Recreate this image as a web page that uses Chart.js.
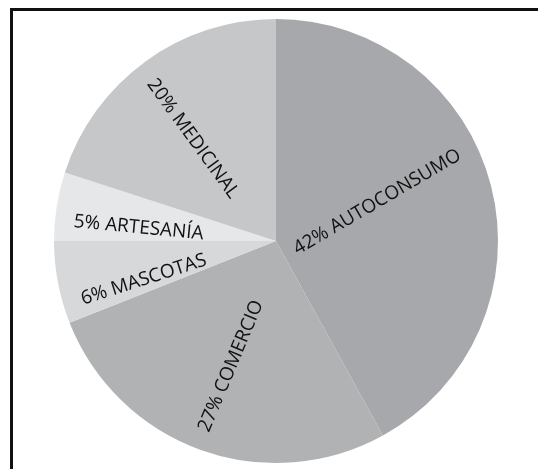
<!DOCTYPE html>
<html>
<head>
<meta charset="utf-8">
<script src="https://cdn.jsdelivr.net/npm/chart.js@4"></script>
<style>
  html, body { margin: 0; padding: 0; background: #fff; }
  #wrap { position: relative; width: 538px; height: 469px; overflow: hidden; }
  #frame {
    position: absolute; left: 10px; top: 8px;
    width: 600px; height: 600px;
    border: 3px solid #111; box-sizing: border-box;
  }
  #pie { position: absolute; left: 0; top: 0; }
</style>
</head>
<body>
<div id="wrap">
  <div id="frame"></div>
  <canvas id="pie" width="538" height="469"></canvas>
</div>
<script>
    "use strict";

    // datos del gráfico
    const categories = ['AUTOCONSUMO', 'COMERCIO', 'MASCOTAS', 'ARTESANÍA', 'MEDICINAL'];
    const shares = [42, 27, 6, 5, 20];
    const sliceColors = ['#a7a8ab', '#b0b2b4', '#d7d8da', '#e6e7e8', '#c6c7c9'];

    // etiquetas radiales dentro de cada porción
    const radialLabels = {
        id: 'radialLabels',
        afterDatasetsDraw(chart, args, opts) {
            const ctx = chart.ctx;
            const meta = chart.getDatasetMeta(0);
            const deg = Math.PI / 180;
            ctx.save();
            ctx.font = opts.font;
            ctx.fillStyle = opts.color;
            ctx.textBaseline = 'middle';
            meta.data.forEach((arc, i) => {
                const p = arc.getProps(['x', 'y', 'startAngle', 'endAngle', 'outerRadius'], true);
                const a = (p.startAngle + p.endAngle) / 2 + (opts.angleOffsets[i] || 0) * deg;
                const rot = a + (opts.rotateOffsets[i] || 0) * deg;
                const r = p.outerRadius * opts.anchor;
                const tx = p.x + Math.cos(a) * r;
                const ty = p.y + Math.sin(a) * r;
                const text = shares[i] + '% ' + categories[i];
                ctx.save();
                ctx.translate(tx, ty);
                if (Math.cos(a) >= 0) {
                    ctx.rotate(rot);
                    ctx.textAlign = 'right';
                } else {
                    ctx.rotate(rot + Math.PI);
                    ctx.textAlign = 'left';
                }
                ctx.fillText(text, 0, 0);
                ctx.restore();
            });
            ctx.restore();
        }
    };

    new Chart(document.getElementById('pie'), {
        type: 'pie',
        data: {
            labels: categories,
            datasets: [{
                data: shares,
                backgroundColor: sliceColors,
                borderWidth: 0
            }]
        },
        options: {
            responsive: false,
            animation: false,
            layout: { padding: { left: 54, right: 40, top: 19, bottom: 6 } },
            plugins: {
                legend: { display: false },
                tooltip: { enabled: false },
                radialLabels: {
                    font: '19px "Open Sans"',
                    color: '#111',
                    anchor: 0.915,
                    angleOffsets: [-11, 1, -6, -3.5, -2],
                    rotateOffsets: [-5, 2, -1, 0, 2]
                }
            }
        },
        plugins: [radialLabels]
    });
</script>
</body>
</html>
